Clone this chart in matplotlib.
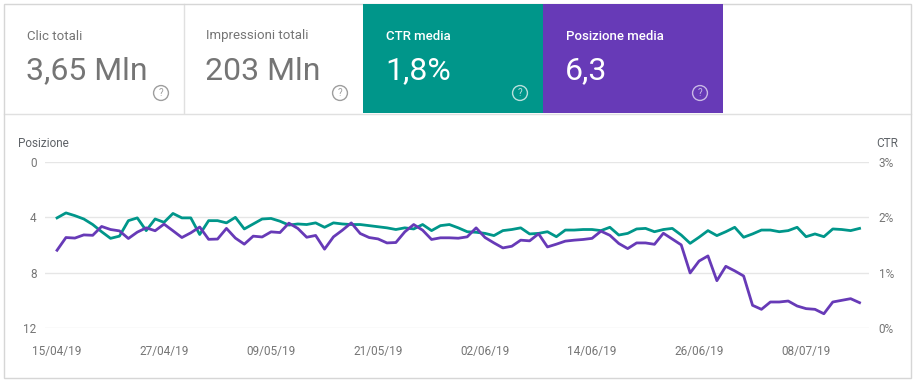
import numpy as np
import pandas as pd
import matplotlib
matplotlib.use('Agg')
import matplotlib.pyplot as plt
from matplotlib.patches import Rectangle
import matplotlib.ticker as mticker

plt.rcParams['font.family'] = ['Roboto', 'DejaVu Sans']

# card data
card_titles = ['Clic totali', 'Impressioni totali', 'CTR media', 'Posizione media']
card_values = ['3,65 Mln', '203 Mln', '1,8%', '6,3']

# daily series, 15/04/19 .. 14/07/19
dates = pd.date_range('2019-04-15', '2019-07-14', freq='D')
posizione = [6.38, 5.46, 5.50, 5.27, 5.30, 4.66, 4.88, 4.98, 5.53, 5.07,
             4.76, 4.97, 4.49, 4.97, 5.46, 5.12, 4.70, 5.59, 5.57, 4.80,
             5.50, 5.94, 5.36, 5.42, 5.05, 5.10, 4.42, 4.80, 5.44, 5.31,
             6.30, 5.41, 4.93, 4.40, 5.17, 5.46, 5.56, 5.85, 5.82, 5.05,
             4.52, 4.93, 5.60, 5.48, 5.48, 5.51, 5.41, 4.76, 5.46, 5.85,
             6.21, 6.09, 5.65, 5.70, 5.19, 6.14, 5.94, 5.72, 5.65, 5.60,
             5.52, 5.00, 5.30, 5.89, 6.26, 5.85, 5.85, 5.95, 5.15, 5.57,
             5.99, 8.02, 7.16, 6.79, 8.58, 7.54, 7.87, 8.24, 10.36, 10.65,
             10.12, 10.12, 10.05, 10.41, 10.60, 10.65, 10.97, 10.12, 10.00, 9.88,
             10.17]
ctr = [1.99, 2.08, 2.03, 1.97, 1.87, 1.74, 1.62, 1.66, 1.94, 1.99,
       1.76, 1.97, 1.91, 2.07, 1.99, 1.99, 1.69, 1.94, 1.94, 1.90,
       2.00, 1.79, 1.88, 1.97, 1.98, 1.93, 1.86, 1.88, 1.87, 1.90,
       1.82, 1.90, 1.88, 1.87, 1.87, 1.85, 1.83, 1.81, 1.78, 1.81,
       1.79, 1.87, 1.76, 1.85, 1.87, 1.81, 1.74, 1.73, 1.71, 1.67,
       1.76, 1.78, 1.81, 1.70, 1.71, 1.74, 1.65, 1.77, 1.77, 1.78,
       1.78, 1.76, 1.82, 1.68, 1.71, 1.79, 1.80, 1.74, 1.78, 1.80,
       1.68, 1.53, 1.64, 1.76, 1.67, 1.74, 1.82, 1.64, 1.70, 1.77,
       1.77, 1.74, 1.76, 1.82, 1.65, 1.70, 1.65, 1.79, 1.78, 1.76,
       1.80]

pos_ticks = [0, 4, 8, 12]
ctr_ticks = [0, 1, 2, 3]

W, H = 916, 382
TEAL = '#00968a'
PURPLE = '#673ab7'
GREY = '#757575'

fig = plt.figure(figsize=(W / 100, H / 100), dpi=100)
fig.patch.set_facecolor('white')


def px(x, y):
    return x / W, 1 - y / H


# outer frame and separators
fig.patches.append(Rectangle(px(4, 378), 907 / W, 374 / H, transform=fig.transFigure,
                             facecolor='none', edgecolor='#d6d6d6', lw=1, zorder=-1))
fig.lines.append(plt.Line2D([4 / W, 911 / W], [1 - 113.5 / H] * 2, transform=fig.transFigure,
                            color='#e0e0e0', lw=1, zorder=-1))
fig.lines.append(plt.Line2D([183.5 / W] * 2, [1 - 113 / H, 1 - 4 / H], transform=fig.transFigure,
                            color='#e0e0e0', lw=1, zorder=-1))

# cards
card_x = [4, 183, 363, 543]
card_bg = [None, None, TEAL, PURPLE]
for i in range(4):
    x0 = card_x[i]
    if card_bg[i]:
        fig.patches.append(Rectangle(px(x0, 113), 180 / W, 109 / H, transform=fig.transFigure,
                                     facecolor=card_bg[i], edgecolor='none', zorder=1))
        tc, wt, qc = 'white', 'medium', '#b8e0dc' if i == 2 else '#c9b8e6'
    else:
        tc, wt, qc = GREY, 'normal', '#9e9e9e'
    fig.text(*px(x0 + 23, 36), card_titles[i], color=tc, fontsize=9.5, fontweight=wt,
             va='center', ha='left', zorder=2)
    fig.text(*px(x0 + 22, 71), card_values[i], color=tc, fontsize=23, fontweight='normal',
             va='center', ha='left', zorder=2)
    fig.text(*px(x0 + 157, 93), '?', color=qc, fontsize=7, ha='center', va='center', zorder=2,
             bbox=dict(boxstyle='circle,pad=0.25', facecolor='none', edgecolor=qc, lw=1))

# chart
ax = fig.add_axes([45 / W, (H - 328) / H, 824 / W, 166 / H])
ax2 = ax.twinx()
x = np.arange(len(dates))
ax2.plot(x, ctr, color=TEAL, lw=2, zorder=3)
ax.plot(x, posizione, color=PURPLE, lw=2, zorder=3)
ax.set_zorder(ax2.get_zorder() + 1)
ax.patch.set_visible(False)

ax.set_ylim(12, 0)
ax.set_yticks(pos_ticks)
ax2.set_ylim(0, 3)
ax2.set_yticks(ctr_ticks)
ax2.yaxis.set_major_formatter(mticker.FuncFormatter(lambda v, p: '%d%%' % v))
ax.set_xlim(-1.35, 91.06)
tick_idx = list(range(0, len(dates), 12))
ax.set_xticks(tick_idx)
ax.set_xticklabels([dates[i].strftime('%d/%m/%y') for i in tick_idx])
# grid on the lower axes so it stays under both lines
ax2.set_axisbelow(True)
ax2.grid(axis='y', color='#e6e6e6', lw=1)
for a in (ax, ax2):
    for s in a.spines.values():
        s.set_visible(False)
    a.tick_params(length=0, colors=GREY, labelsize=8.5)
ax.tick_params(axis='y', pad=6)
ax2.tick_params(axis='y', pad=7)
ax.tick_params(axis='x', pad=12)

fig.text(*px(18, 144), 'Posizione', color='#5f6368', fontsize=8.5, va='center', ha='left')
fig.text(*px(876, 144), 'CTR', color='#5f6368', fontsize=8.5, va='center', ha='left')

fig.savefig('out.png', dpi=100)
